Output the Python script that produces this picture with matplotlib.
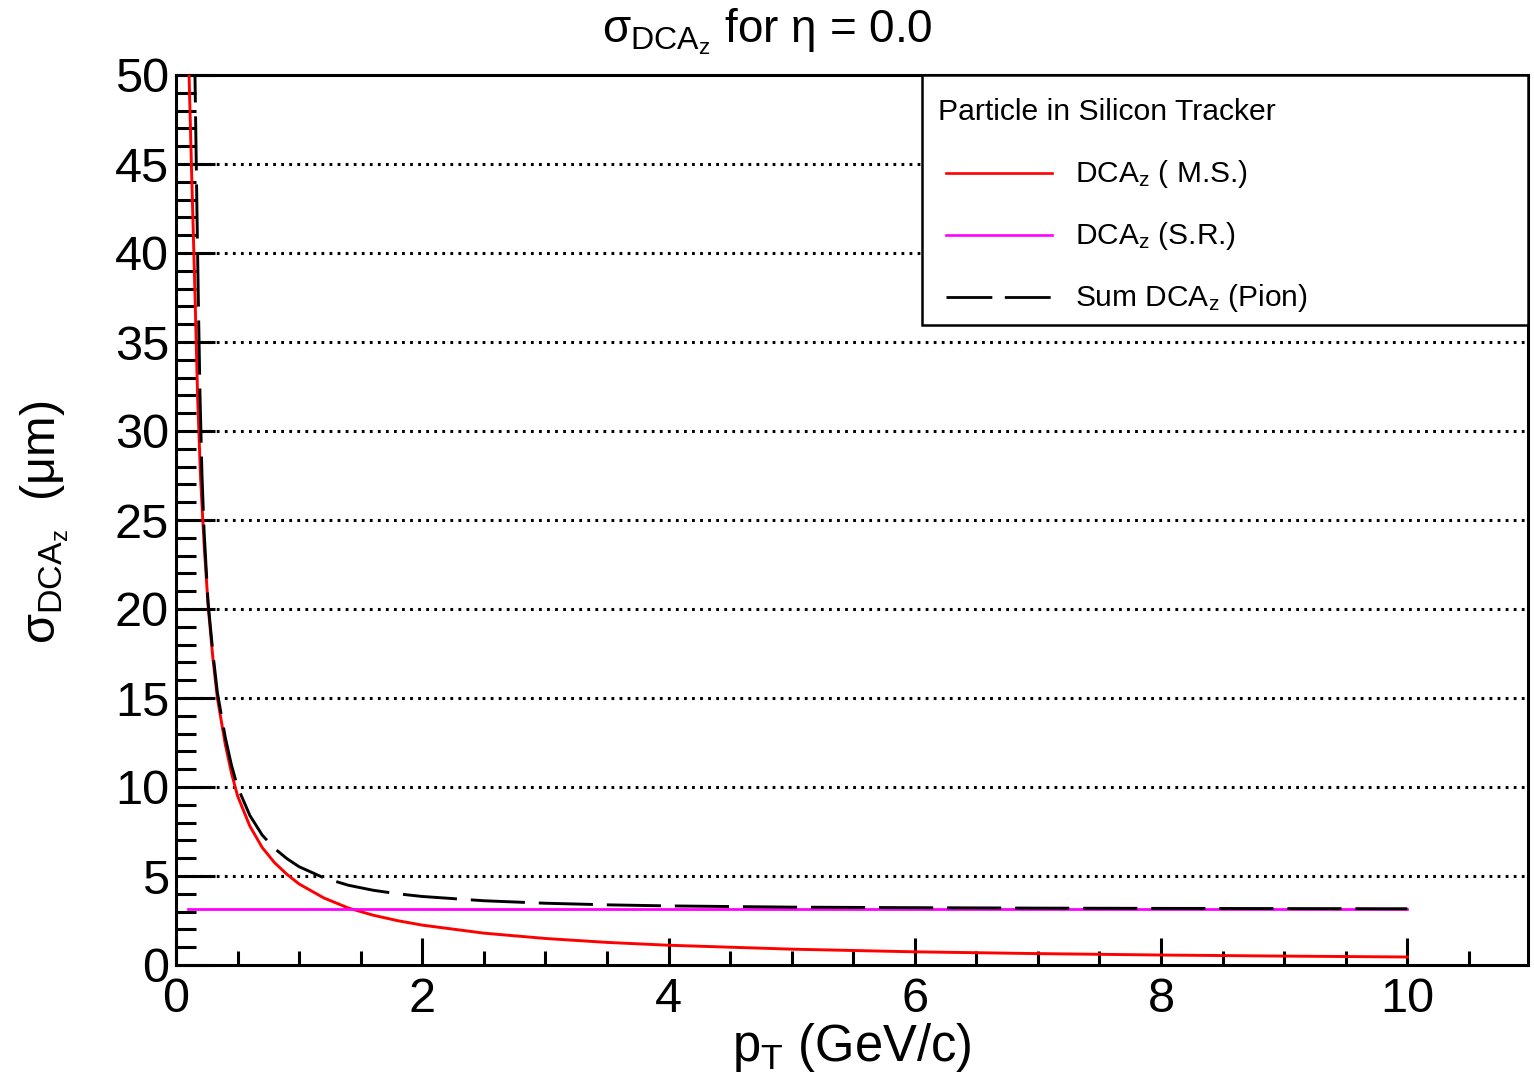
import matplotlib
matplotlib.use("Agg")
import matplotlib.pyplot as plt
from matplotlib.lines import Line2D
from matplotlib.patches import Rectangle
from matplotlib.ticker import MultipleLocator

plt.rcParams['font.family'] = ['Liberation Sans', 'DejaVu Sans']
plt.rcParams['mathtext.fontset'] = 'custom'
plt.rcParams['mathtext.rm'] = 'Liberation Sans'
plt.rcParams['mathtext.it'] = 'Liberation Sans'
plt.rcParams['mathtext.bf'] = 'Liberation Sans:bold'
plt.rcParams['lines.scale_dashes'] = False

# Multiple-scattering contribution (um) vs pT (GeV/c)
pt_ms = [0.100, 0.125, 0.153, 0.176, 0.200, 0.230, 0.263, 0.300, 0.336,
         0.40, 0.45, 0.50, 0.60, 0.70, 0.80, 0.90, 1.0, 1.2, 1.4, 1.6,
         1.8, 2.0, 2.5, 3.0, 3.5, 4.0, 5.0, 6.0, 7.0, 8.0, 9.0, 10.0]
dca_ms = [51.6, 45.0, 38.0, 31.8, 27.3, 23.4, 20.0, 17.2, 15.0,
          12.4, 10.8, 9.5, 7.8, 6.6, 5.75, 5.1, 4.55, 3.77, 3.2, 2.8,
          2.49, 2.24, 1.79, 1.49, 1.27, 1.11, 0.89, 0.74, 0.64, 0.56, 0.50, 0.45]

# Spatial-resolution contribution (flat)
pt_sr = [0.1, 10.0]
dca_sr = [3.13, 3.13]

# Quadrature sum for pions
pt_sum = [0.150, 0.154, 0.171, 0.181, 0.195, 0.211, 0.228, 0.260, 0.300, 0.336,
          0.40, 0.45, 0.50, 0.60, 0.70, 0.80, 0.90, 1.0, 1.2, 1.4, 1.6,
          1.8, 2.0, 2.5, 3.0, 3.5, 4.0, 5.0, 6.0, 7.0, 8.0, 9.0, 10.0]
dca_sum = [51.5, 50.0, 42.0, 37.5, 32.0, 27.5, 24.4, 20.4, 17.5, 15.3,
           12.79, 11.24, 10.0, 8.40, 7.30, 6.55, 5.98, 5.52, 4.90, 4.48, 4.20,
           4.00, 3.85, 3.61, 3.47, 3.38, 3.32, 3.25, 3.22, 3.195, 3.18, 3.17, 3.16]

legend_header = "Particle in Silicon Tracker"
legend_labels = [r"DCA$_{\mathrm{z}}$ ( M.S.)", r"DCA$_{\mathrm{z}}$ (S.R.)",
                 r"Sum DCA$_{\mathrm{z}}$ (Pion)"]

W, H = 1534, 1083
fig = plt.figure(figsize=(W / 100, H / 100), dpi=100)
L, R, T, B = 176, 1528, 75, 965
ax = fig.add_axes([L / W, 1 - B / H, (R - L) / W, (B - T) / H])

ax.set_xlim(0, 10.98)
ax.set_ylim(0, 50)

# dotted horizontal grid
for yv in range(5, 50, 5):
    ax.axhline(yv, color='black', lw=2.2, ls=(0, (2.0, 3.8)), zorder=1)

ax.plot(pt_ms, dca_ms, color='#ff0000', lw=2.1, zorder=3)
ax.plot(pt_sr, dca_sr, color='#ff00ff', lw=2.0, zorder=4)
ax.plot(pt_sum, dca_sum, color='black', lw=2.1, dashes=(39, 10), zorder=5)

for s in ax.spines.values():
    s.set_linewidth(2.2)

ax.xaxis.set_major_locator(MultipleLocator(2))
ax.xaxis.set_minor_locator(MultipleLocator(0.5))
ax.yaxis.set_major_locator(MultipleLocator(5))
ax.yaxis.set_minor_locator(MultipleLocator(1))
ax.tick_params(axis='y', which='major', direction='in', length=28, width=2.2,
               labelsize=35, pad=5, right=False)
ax.tick_params(axis='y', which='minor', direction='in', length=14.5, width=2.2, right=False)
ax.tick_params(axis='x', which='major', direction='in', length=19.5, width=2.2,
               labelsize=35, pad=9, top=False)
ax.tick_params(axis='x', which='minor', direction='in', length=10, width=2.2, top=False)

# legend box
def ax_x(px):
    return (px - L) / (R - L)

def ax_y(py):
    return (B - py) / (B - T)

ax.add_patch(Rectangle((ax_x(922), ax_y(325)), 1 - ax_x(922), 1 - ax_y(325),
                       transform=ax.transAxes, facecolor='white', edgecolor='black',
                       lw=1.8, zorder=10, clip_on=False))
ax.text(ax_x(938), ax_y(112), legend_header, transform=ax.transAxes,
        fontsize=21.7, ha='left', va='center', zorder=11)
styles = [dict(color='#ff0000', lw=1.9), dict(color='#ff00ff', lw=1.9),
          dict(color='black', lw=2.0, dashes=(33, 9))]
rows = [173, 235, 297]
for lab, st, ry in zip(legend_labels, styles, rows):
    ax.add_line(Line2D([ax_x(946), ax_x(1052)], [ax_y(ry), ax_y(ry)],
                       transform=ax.transAxes, zorder=11, clip_on=False, **st))
    ax.text(ax_x(1075), ax_y(ry + 1), lab, transform=ax.transAxes,
            fontsize=21.5, ha='left', va='center', zorder=11)

fig.text(767 / W, 1 - 32 / H,
         r"$\sigma_{\mathrm{DCA}_{\mathrm{z}}}$ for $\eta$ = 0.0",
         fontsize=33, ha='center', va='center')
fig.text(852 / W, 1 - 1047 / H, r"p$_{\mathrm{T}}$ (GeV/c)",
         fontsize=36.5, ha='center', va='center')
fig.text(45 / W, 1 - 522 / H, r"$\sigma_{\mathrm{DCA}_{\mathrm{z}}}$  (μm)",
         fontsize=35, ha='center', va='center', rotation=90)

fig.savefig("out.png", dpi=100, facecolor='white')
